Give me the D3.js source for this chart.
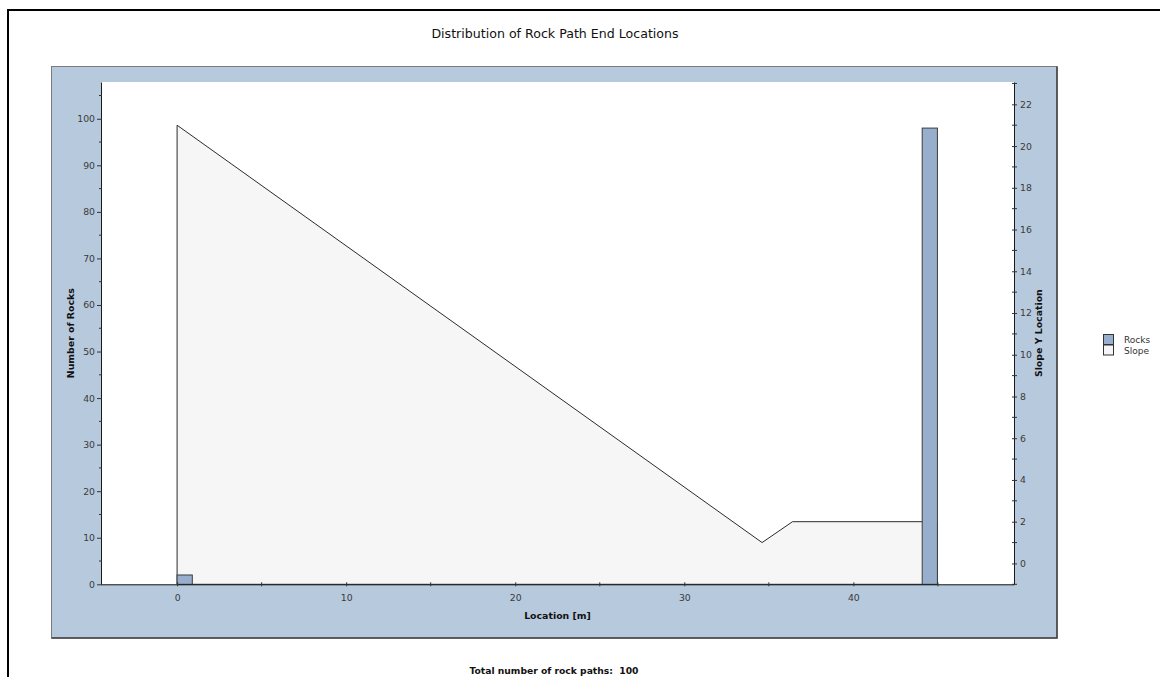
<!DOCTYPE html>
<html>
<head>
<meta charset="utf-8">
<script src="https://cdn.jsdelivr.net/npm/d3@7"></script>
<style>
  html, body { margin: 0; padding: 0; background: #fff; }
  svg { display: block; font-family: "DejaVu Sans", Verdana, sans-serif; }
</style>
</head>
<body>
<svg id="chart" width="1160" height="677"></svg>
<script>
// Histogram of where rock paths stop along the slope
const binStarts = [0, 44.07];
const binEnds = [0.9, 44.97];
const rockCounts = [2, 98];

// Slope profile (x location, y location)
const slopeX = [0, 34.6, 36.4, 44.97];
const slopeY = [21, 1, 2, 2];

// Axis ranges and ticks
const xDomain = [-4.5, 49.5];
const countDomain = [0, 107.9];
const slopeDomain = [-1, 23.07];
const xTicks = [0, 10, 20, 30, 40];
const xMinorTicks = [-5, 5, 15, 25, 35, 45];
const countTicks = [0, 10, 20, 30, 40, 50, 60, 70, 80, 90, 100];
const countMinorTicks = [5, 15, 25, 35, 45, 55, 65, 75, 85, 95, 105];
const slopeTicks = [0, 2, 4, 6, 8, 10, 12, 14, 16, 18, 20, 22];
const slopeMinorTicks = [-1, 1, 3, 5, 7, 9, 11, 13, 15, 17, 19, 21, 23];

const totalPaths = 100;

const svg = d3.select("#chart");
const W = 1160, H = 677;

// outer frame
svg.append("rect").attr("x", 8).attr("y", 10).attr("width", W + 10).attr("height", H + 10)
  .attr("fill", "#fff").attr("stroke", "#000").attr("stroke-width", 2);

// title
svg.append("text").attr("x", 555).attr("y", 37.5).attr("text-anchor", "middle")
  .attr("font-size", 12.6).attr("fill", "#111").text("Distribution of Rock Path End Locations");

// blue panel
const panel = { x: 51.5, y: 66.5, w: 1005.5, h: 571.5 };
svg.append("rect").attr("x", panel.x).attr("y", panel.y).attr("width", panel.w).attr("height", panel.h)
  .attr("fill", "#b7c9dd").attr("stroke", "#7a7a7a").attr("stroke-width", 1);
svg.append("path")
  .attr("d", `M${panel.x + panel.w},${panel.y} V${panel.y + panel.h} H${panel.x}`)
  .attr("fill", "none").attr("stroke", "#3f3f3f").attr("stroke-width", 1.5);

// plot area
const plot = { left: 101, right: 1014, top: 82, bottom: 584.3 };
svg.append("rect").attr("x", plot.left).attr("y", plot.top)
  .attr("width", plot.right - plot.left).attr("height", plot.bottom - plot.top).attr("fill", "#fff");

const x = d3.scaleLinear().domain(xDomain).range([plot.left, plot.right]);
const yCount = d3.scaleLinear().domain(countDomain).range([plot.bottom, plot.top]);
const ySlope = d3.scaleLinear().domain(slopeDomain).range([plot.bottom, plot.top]);

// slope area
const slopePts = slopeX.map((d, i) => [d, slopeY[i]]);
const ring = [[slopeX[0], slopeDomain[0]], ...slopePts, [slopeX[slopeX.length - 1], slopeDomain[0]]];
svg.append("path")
  .attr("d", d3.line().x(d => x(d[0])).y(d => ySlope(d[1]))(ring) + "Z")
  .attr("fill", "#f6f6f6").attr("stroke", "#2b2b2b").attr("stroke-width", 1)
  .attr("stroke-linejoin", "miter");

// rock bars
const bins = binStarts.map((s, i) => ({ x0: s, x1: binEnds[i], n: rockCounts[i] }));
svg.append("g").selectAll("rect").data(bins).join("rect")
  .attr("x", d => x(d.x0)).attr("y", d => yCount(d.n))
  .attr("width", d => x(d.x1) - x(d.x0)).attr("height", d => yCount(0) - yCount(d.n))
  .attr("fill", "#97afcd").attr("stroke", "#3c3c3c").attr("stroke-width", 1);

// axes
function styleAxis(g) {
  g.select(".domain").attr("stroke", "#1a1a1a");
  g.selectAll(".tick line").attr("stroke", "#333");
  g.selectAll(".tick text").attr("fill", "#3a3a3a").attr("font-size", 9.3)
    .attr("font-family", "DejaVu Sans, Verdana, sans-serif");
}

// bottom
const gx = svg.append("g").attr("transform", `translate(0,${plot.bottom})`)
  .call(d3.axisBottom(x).tickValues(xTicks).tickSizeInner(2).tickSizeOuter(0).tickPadding(8).tickFormat(d3.format("d")));
styleAxis(gx);
gx.selectAll(".tick line").attr("y1", -2).attr("y2", 2);
svg.append("g").attr("transform", `translate(0,${plot.bottom})`)
  .selectAll("line").data(xMinorTicks.filter(v => v >= xDomain[0] && v <= xDomain[1])).join("line")
  .attr("x1", d => x(d)).attr("x2", d => x(d)).attr("y1", -2).attr("y2", 2).attr("stroke", "#333");

// left
const gl = svg.append("g").attr("transform", `translate(${plot.left},0)`)
  .call(d3.axisLeft(yCount).tickValues(countTicks).tickSizeInner(4).tickSizeOuter(0).tickPadding(2).tickFormat(d3.format("d")));
styleAxis(gl);
gl.selectAll(".tick line").attr("x2", -4).attr("x1", 1);
svg.append("g").attr("transform", `translate(${plot.left},0)`)
  .selectAll("line").data(countMinorTicks.filter(v => v <= countDomain[1])).join("line")
  .attr("x1", -2).attr("x2", 1).attr("y1", d => yCount(d)).attr("y2", d => yCount(d)).attr("stroke", "#333");

// right
const gr = svg.append("g").attr("transform", `translate(${plot.right},0)`)
  .call(d3.axisRight(ySlope).tickValues(slopeTicks).tickSizeInner(3).tickSizeOuter(0).tickPadding(3).tickFormat(d3.format("d")));
styleAxis(gr);
gr.selectAll(".tick line").attr("x1", -2).attr("x2", 3);
svg.append("g").attr("transform", `translate(${plot.right},0)`)
  .selectAll("line").data(slopeMinorTicks.filter(v => v >= slopeDomain[0] && v <= slopeDomain[1])).join("line")
  .attr("x1", -2).attr("x2", 3).attr("y1", d => ySlope(d)).attr("y2", d => ySlope(d)).attr("stroke", "#333");

// axis titles
svg.append("text").attr("x", (plot.left + plot.right) / 2).attr("y", 619)
  .attr("text-anchor", "middle").attr("font-size", 9.4).attr("font-weight", "bold").attr("fill", "#111")
  .text("Location [m]");
svg.append("text").attr("transform", `translate(74,${(plot.top + plot.bottom) / 2}) rotate(-90)`)
  .attr("text-anchor", "middle").attr("font-size", 9.4).attr("font-weight", "bold").attr("fill", "#111")
  .text("Number of Rocks");
svg.append("text").attr("transform", `translate(1042,${(plot.top + plot.bottom) / 2}) rotate(-90)`)
  .attr("text-anchor", "middle").attr("font-size", 9.4).attr("font-weight", "bold").attr("fill", "#111")
  .text("Slope Y Location");

// legend
const legendItems = ["Rocks", "Slope"];
const legendFill = ["#97afcd", "#f6f6f6"];
const lg = svg.append("g").attr("transform", "translate(1103.5,334.5)");
lg.selectAll("rect").data(legendItems).join("rect")
  .attr("x", 0).attr("y", (d, i) => i * 10.5).attr("width", 10).attr("height", 10)
  .attr("fill", (d, i) => legendFill[i]).attr("stroke", "#333").attr("stroke-width", 1);
lg.selectAll("text").data(legendItems).join("text")
  .attr("x", 20.5).attr("y", (d, i) => i * 10.5 + 8.5)
  .attr("font-size", 9).attr("fill", "#333").text(d => d);

// footer
svg.append("text").attr("x", 554).attr("y", 674).attr("text-anchor", "middle")
  .attr("font-size", 9.2).attr("font-weight", "bold").attr("fill", "#111")
  .attr("xml:space", "preserve")
  .text(`Total number of rock paths:  ${totalPaths}`);
</script>
</body>
</html>
